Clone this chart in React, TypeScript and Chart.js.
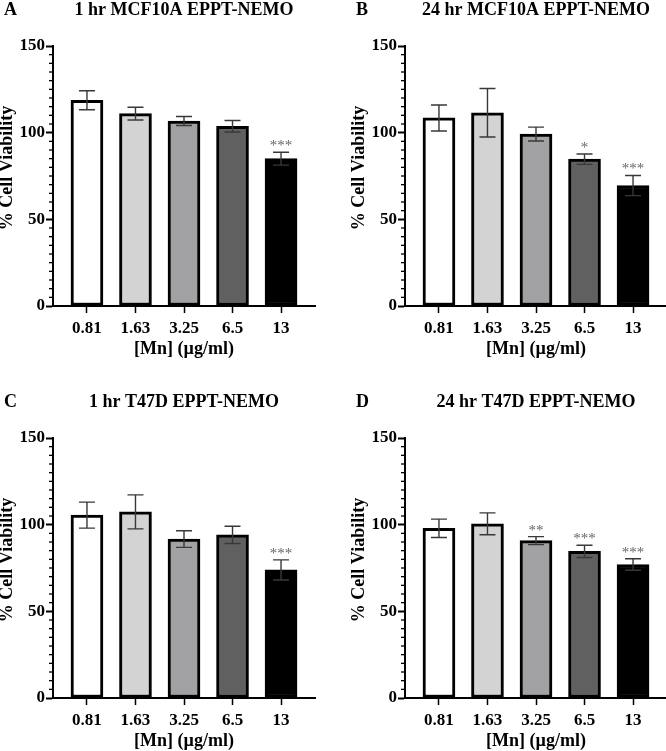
import React, { useEffect, useRef } from "react";
import { Chart, registerables } from "chart.js";

Chart.register(...registerables);

// Mn concentrations (µg/ml) shown on every x axis
const doses = ["0.81", "1.63", "3.25", "6.5", "13"];
const barFills = ["#ffffff", "#d3d3d3", "#a2a2a5", "#606060", "#000000"];
const yTicks = [0, 50, 100, 150];

// Panel A: 1 hr MCF10A
const mcf1hMean = [118.7, 111.0, 106.7, 103.7, 85.0];
const mcf1hSd = [5.5, 3.7, 2.6, 3.3, 3.7];
const mcf1hSig = ["", "", "", "", "***"];

// Panel B: 24 hr MCF10A
const mcf24hMean = [108.5, 111.5, 99.2, 84.7, 69.5];
const mcf24hSd = [7.5, 14.0, 4.0, 3.0, 5.8];
const mcf24hSig = ["", "", "", "*", "***"];

// Panel C: 1 hr T47D
const t47d1hMean = [105.5, 107.4, 91.7, 94.1, 73.9];
const t47d1hSd = [7.5, 9.8, 4.8, 5.0, 5.8];
const t47d1hSig = ["", "", "", "", "***"];

// Panel D: 24 hr T47D
const t47d24hMean = [97.9, 100.5, 90.8, 84.6, 77.0];
const t47d24hSd = [5.3, 6.3, 2.3, 3.5, 3.3];
const t47d24hSig = ["", "", "**", "***", "***"];

const FONT = "'Liberation Serif', 'Times New Roman', serif";

// Every panel canvas shares the same geometry
const CW = 343;
const CH = 392;
const AREA = { left: 63, right: 325, top: 46, bottom: 306 };

type PanelProps = {
  letter: string;
  title: string;
  mean: number[];
  sd: number[];
  sig: string[];
  left: number;
  top: number;
};

function Panel({ letter, title, mean, sd, sig, left, top }: PanelProps) {
  const ref = useRef<HTMLCanvasElement | null>(null);

  useEffect(() => {
    if (!ref.current) return;

    const decor = {
      id: "decor",
      afterDatasetsDraw(chart: any) {
        const { ctx } = chart;
        const xs = chart.scales.x;
        const ys = chart.scales.y;
        ctx.save();
        // error bars (mean ± SD)
        ctx.strokeStyle = "#383838";
        ctx.lineWidth = 1.4;
        mean.forEach((m, i) => {
          const px = xs.getPixelForValue(i);
          const hi = ys.getPixelForValue(m + sd[i]);
          const lo = ys.getPixelForValue(m - sd[i]);
          ctx.beginPath();
          ctx.moveTo(px, hi);
          ctx.lineTo(px, lo);
          ctx.moveTo(px - 8, hi);
          ctx.lineTo(px + 8, hi);
          ctx.moveTo(px - 8, lo);
          ctx.lineTo(px + 8, lo);
          ctx.stroke();
          if (sig[i]) {
            ctx.fillStyle = "#666666";
            ctx.font = `15px ${FONT}`;
            ctx.textAlign = "center";
            ctx.textBaseline = "alphabetic";
            ctx.fillText(sig[i], px, hi - 2);
          }
        });
        ctx.restore();
      },
      afterDraw(chart: any) {
        const { ctx, chartArea } = chart;
        const ys = chart.scales.y;
        ctx.save();
        // minor ticks on the y axis every 5 %
        ctx.strokeStyle = "#000";
        ctx.lineWidth = 1.3;
        for (let v = 5; v < 150; v += 5) {
          if (v % 50 === 0) continue;
          const py = ys.getPixelForValue(v);
          ctx.beginPath();
          ctx.moveTo(chartArea.left - 4, py);
          ctx.lineTo(chartArea.left, py);
          ctx.stroke();
        }
        const cx = (chartArea.left + chartArea.right) / 2;
        ctx.fillStyle = "#000";
        ctx.font = `bold 18px ${FONT}`;
        ctx.textBaseline = "middle";
        ctx.textAlign = "left";
        ctx.fillText(letter, 14, 10);
        ctx.textAlign = "center";
        ctx.fillText(title, cx, 10);
        ctx.fillText("[Mn] (µg/ml)", cx, 349);
        ctx.translate(17, (chartArea.top + chartArea.bottom) / 2 - 8);
        ctx.rotate(-Math.PI / 2);
        ctx.fillText("% Cell Viability", 0, 0);
        ctx.restore();
      },
    };

    const chart = new Chart(ref.current, {
      type: "bar",
      data: {
        datasets: [
          {
            data: mean.map((m, i) => ({ x: i, y: m })),
            backgroundColor: barFills,
            borderColor: "#000",
            borderWidth: 3,
            borderSkipped: false,
            barThickness: 32,
          },
        ],
      },
      options: {
        animation: false,
        responsive: false,
        maintainAspectRatio: false,
        devicePixelRatio: 1,
        layout: {
          padding: {
            left: 0,
            top: AREA.top,
            right: CW - AREA.right,
            bottom: 0,
          },
        },
        plugins: {
          legend: { display: false },
          tooltip: { enabled: false },
          title: { display: false },
        },
        scales: {
          x: {
            type: "linear",
            offset: false,
            min: -0.7,
            max: 4.7,
            afterBuildTicks: (scale: any) => {
              scale.ticks = doses.map((_, i) => ({ value: i }));
            },
            afterFit: (scale: any) => {
              scale.height = CH - AREA.bottom;
            },
            ticks: {
              autoSkip: false,
              maxRotation: 0,
              padding: 5,
              color: "#000",
              font: { family: FONT, size: 17, weight: "bold" },
              callback: (v: any) => doses[Math.round(Number(v))] ?? "",
            },
            grid: {
              offset: false,
              drawOnChartArea: false,
              drawTicks: true,
              tickLength: 7,
              tickWidth: 1.5,
              tickColor: "#000",
            },
            border: { display: true, color: "#000", width: 2 },
          },
          y: {
            type: "linear",
            min: 0,
            max: 150,
            afterBuildTicks: (scale: any) => {
              scale.ticks = yTicks.map((v) => ({ value: v }));
            },
            afterFit: (scale: any) => {
              scale.width = AREA.left;
            },
            ticks: {
              padding: 1,
              color: "#000",
              font: { family: FONT, size: 17, weight: "bold" },
            },
            grid: {
              drawOnChartArea: false,
              drawTicks: true,
              tickLength: 7,
              tickWidth: 2,
              tickColor: "#000",
            },
            border: { display: true, color: "#000", width: 2 },
          },
        },
      },
      plugins: [decor],
    } as any);

    return () => chart.destroy();
  }, [letter, title, mean, sd, sig]);

  return (
    <canvas
      ref={ref}
      width={CW}
      height={CH}
      style={{ position: "absolute", left, top, width: CW, height: CH }}
    />
  );
}

export default function App() {
  return (
    <div
      style={{
        position: "fixed",
        left: 0,
        top: 0,
        width: 666,
        height: 751,
        overflow: "hidden",
        background: "#ffffff",
      }}
    >
      <Panel letter="A" title="1 hr MCF10A EPPT-NEMO" mean={mcf1hMean} sd={mcf1hSd} sig={mcf1hSig} left={-10} top={0} />
      <Panel letter="B" title="24 hr MCF10A EPPT-NEMO" mean={mcf24hMean} sd={mcf24hSd} sig={mcf24hSig} left={342} top={0} />
      <Panel letter="C" title="1 hr T47D EPPT-NEMO" mean={t47d1hMean} sd={t47d1hSd} sig={t47d1hSig} left={-10} top={392} />
      <Panel letter="D" title="24 hr T47D EPPT-NEMO" mean={t47d24hMean} sd={t47d24hSd} sig={t47d24hSig} left={342} top={392} />
    </div>
  );
}
